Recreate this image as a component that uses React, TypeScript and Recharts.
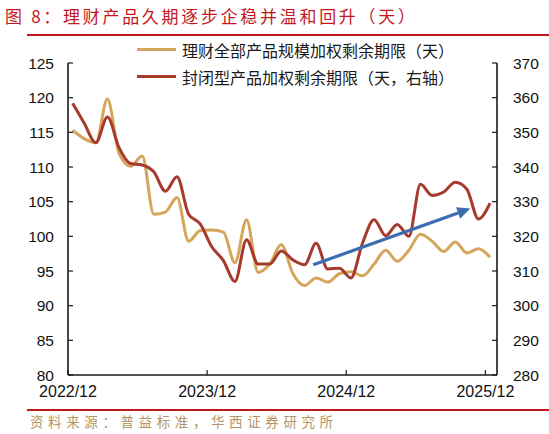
import { CartesianGrid, Legend, Line, LineChart, ReferenceLine, XAxis, YAxis } from 'recharts';

// monthly observations, 2022/12 .. 2025/12
const months = [
  '2022/12', '2023/01', '2023/02', '2023/03', '2023/04', '2023/05', '2023/06', '2023/07',
  '2023/08', '2023/09', '2023/10', '2023/11', '2023/12', '2024/01', '2024/02', '2024/03',
  '2024/04', '2024/05', '2024/06', '2024/07', '2024/08', '2024/09', '2024/10', '2024/11',
  '2024/12', '2025/01', '2025/02', '2025/03', '2025/04', '2025/05', '2025/06', '2025/07',
  '2025/08', '2025/09', '2025/10', '2025/11', '2025/12',
];

// 理财全部产品规模加权剩余期限（天），左轴
const allProducts = [
  115.3, 114.1, 113.5, 119.8, 112.0, 110.1, 111.6, 103.2, 103.5, 105.6, 99.3, 100.8,
  100.9, 100.6, 96.2, 102.4, 94.8, 96.0, 98.8, 94.6, 92.9, 94.0, 93.4, 94.6,
  94.9, 94.3, 96.0, 98.0, 96.4, 98.0, 100.3, 99.3, 97.8, 99.2, 97.6, 98.2, 97.0,
];

// 封闭型产品加权剩余期限（天），右轴
const closedProducts = [
  358.4, 352.6, 347.0, 354.4, 345.6, 341.0, 340.6, 338.6, 333.0, 337.2, 326.4, 323.6,
  317.0, 313.0, 307.0, 319.0, 312.0, 312.0, 315.8, 313.2, 311.8, 318.0, 310.6, 310.8,
  308.0, 318.0, 324.8, 320.2, 323.4, 320.0, 335.0, 331.8, 332.8, 335.6, 333.6, 325.0, 329.6,
];

const leftTicks = [80, 85, 90, 95, 100, 105, 110, 115, 120, 125];
const rightTicks = [280, 290, 300, 310, 320, 330, 340, 350, 360, 370];
const xTicks = [0, 12, 24, 36];
const xTickLabels = ['2022/12', '2023/12', '2024/12', '2025/12'];

// trend arrow, [month, left-axis value]
const arrowFrom = [21.15, 95.9];
const arrowTo = [34.7, 104.0];

const GOLD = '#D4A55B';
const RED = '#A63A2C';
const BLUE = '#3D6DB1';
const AXIS = '#1a1a1a';
const FONT = '"Liberation Sans", Arial, sans-serif';
const CJK = '"Noto Sans CJK SC", sans-serif';

const data = months.map((m, i) => ({
  x: i + 0.4,
  month: m,
  all: allProducts[i],
  closed: closedProducts[i],
}));

const legendItems = [
  { label: '理财全部产品规模加权剩余期限（天）', color: GOLD },
  { label: '封闭型产品加权剩余期限（天，右轴）', color: RED },
];

function LegendBox() {
  return (
    <div style={{ fontFamily: CJK, fontSize: 16, color: '#1a1a1a' }}>
      {legendItems.map((it) => (
        <div key={it.label} style={{ display: 'flex', alignItems: 'center', height: 27 }}>
          <span style={{ display: 'inline-block', width: 39, height: 3.2, background: it.color, marginRight: 6 }} />
          <span>{it.label}</span>
        </div>
      ))}
    </div>
  );
}

function Arrow(props: any) {
  const { x1, y1, x2, y2 } = props;
  const ang = Math.atan2(y2 - y1, x2 - x1);
  const len = 13;
  const half = 6;
  const bx = x2 - len * Math.cos(ang);
  const by = y2 - len * Math.sin(ang);
  const px = -Math.sin(ang) * half;
  const py = Math.cos(ang) * half;
  return (
    <g>
      <line x1={x1} y1={y1} x2={bx} y2={by} stroke={BLUE} strokeWidth={3.2} />
      <polygon points={`${x2},${y2} ${bx + px},${by + py} ${bx - px},${by - py}`} fill={BLUE} />
    </g>
  );
}

export default function App() {
  return (
    <div style={{ position: 'absolute', left: 0, top: 0, width: 549, height: 434, background: '#fff', fontFamily: CJK }}>
      <div
        style={{
          position: 'absolute',
          left: 5,
          top: 3,
          fontSize: 17,
          letterSpacing: 2.7,
          color: '#C4161C',
          whiteSpace: 'nowrap',
        }}
      >
        图 8：理财产品久期逐步企稳并温和回升（天）
      </div>
      <div style={{ position: 'absolute', left: 27, top: 34, width: 522, height: 1.5, background: '#C4161C' }} />

      <div style={{ position: 'absolute', left: 0, top: 0 }}>
        <LineChart width={549} height={434} data={data} margin={{ top: 63, right: 0, bottom: 29, left: 8 }}>
          <CartesianGrid stroke="none" />
          <XAxis
            dataKey="x"
            type="number"
            domain={[0, 37]}
            ticks={xTicks}
            tickFormatter={(v: number) => xTickLabels[xTicks.indexOf(v)] ?? ''}
            interval={0}
            height={30}
            tickSize={-5}
            tickMargin={16}
            axisLine={{ stroke: AXIS, strokeWidth: 1.6 }}
            tickLine={{ stroke: AXIS, strokeWidth: 1.2 }}
            tick={{ fill: '#111', fontSize: 16, fontFamily: FONT }}
          />
          <YAxis
            yAxisId="left"
            domain={[80, 125]}
            ticks={leftTicks}
            width={60}
            tickSize={-5}
            tickMargin={19}
            axisLine={{ stroke: AXIS, strokeWidth: 1.6 }}
            tickLine={{ stroke: AXIS, strokeWidth: 1.2 }}
            tick={{ fill: '#111', fontSize: 15.5, fontFamily: FONT }}
          />
          <YAxis
            yAxisId="right"
            orientation="right"
            domain={[280, 370]}
            ticks={rightTicks}
            width={52}
            tickSize={-5}
            tickMargin={21}
            axisLine={{ stroke: AXIS, strokeWidth: 1.6 }}
            tickLine={{ stroke: AXIS, strokeWidth: 1.2 }}
            tick={{ fill: '#111', fontSize: 15.5, fontFamily: FONT, textAnchor: 'start' }}
          />
          <Legend
            layout="vertical"
            align="center"
            verticalAlign="middle"
            content={() => <LegendBox />}
            wrapperStyle={{ top: 36, left: 137, width: 'auto' }}
          />
          <Line
            yAxisId="left"
            dataKey="all"
            type="monotone"
            stroke={GOLD}
            strokeWidth={3}
            dot={false}
            isAnimationActive={false}
          />
          <Line
            yAxisId="right"
            dataKey="closed"
            type="monotone"
            stroke={RED}
            strokeWidth={3}
            dot={false}
            isAnimationActive={false}
          />
          <ReferenceLine
            yAxisId="left"
            segment={[
              { x: arrowFrom[0], y: arrowFrom[1] },
              { x: arrowTo[0], y: arrowTo[1] },
            ]}
            shape={(p: any) => <Arrow {...p} />}
            ifOverflow="visible"
          />
        </LineChart>
      </div>

      <div style={{ position: 'absolute', left: 27, top: 409, width: 522, height: 1.5, background: '#C4161C' }} />
      <div
        style={{
          position: 'absolute',
          left: 30,
          top: 411,
          fontSize: 13.5,
          letterSpacing: 4.6,
          color: '#B39563',
          whiteSpace: 'nowrap',
        }}
      >
        资料来源：普益标准，华西证券研究所
      </div>
    </div>
  );
}
